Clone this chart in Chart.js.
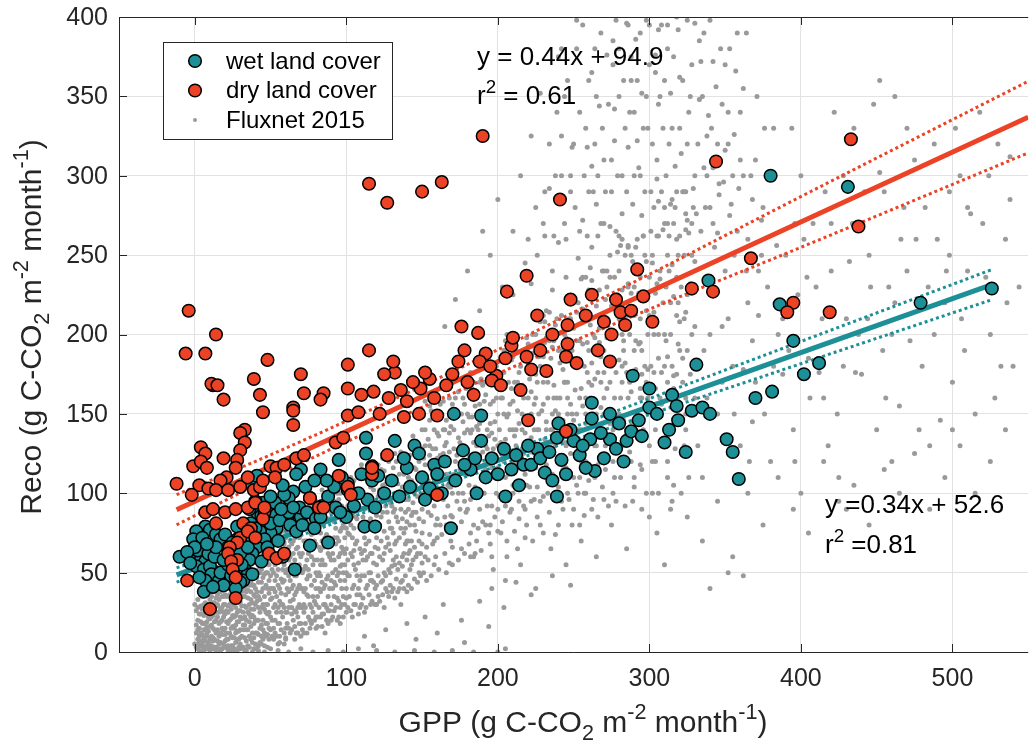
<!DOCTYPE html>
<html>
<head>
<meta charset="utf-8">
<script src="https://cdn.jsdelivr.net/npm/chart.js@4.4.1/dist/chart.umd.min.js"></script>
<style>
  html, body { margin: 0; padding: 0; background: #ffffff; }
  canvas { display: block; }
</style>
</head>
<body>
<canvas id="chart" width="1036" height="746"></canvas>
<script>
// ---- axis ranges and ticks ----
const gppRange = [-50, 550];
const recoRange = [0, 400];
const gppTicks = [0, 100, 200, 300, 400, 500];
const recoTicks = [0, 50, 100, 150, 200, 250, 300, 350, 400];

// ---- regression fits: [slope, intercept, r^2] and the GPP span each line covers ----
const dryFit = [0.44, 94.9, 0.61];
const wetFit = [0.34, 52.6, 0.81];
const dryFitSpan = [-12, 550];
const wetFitSpan = [-12, 526];

// ---- 95% confidence bands around each fit ----
const dryBandGpp = [-12, 50, 120, 200, 300, 400, 550];
const dryBandUpper = [99.1, 124.2, 154.2, 190.4, 237.9, 286.9, 359.5];
const dryBandLower = [80.1, 109.6, 141.2, 175.4, 215.9, 254.9, 314.4];
const wetBandGpp = [-12, 50, 120, 200, 300, 400, 526];
const wetBandUpper = [53.0, 72.8, 96.2, 123.9, 159.6, 195.6, 240.9];
const wetBandLower = [44.0, 66.4, 90.6, 117.3, 149.6, 181.6, 221.9];

// ---- site-month observations [GPP, Reco] ----
const wetLandCover = [
  [65,101],[62,97],[59,99],[70,85],[69,91],[76,97],[76,67],[88,69],[100,85],[101,102],[101,106],[112,79],[119,79],[117,108],[114,96],[119,91],
  [66,52],[52,86],[61,85],[54,78],[50,75],[43,76],[46,71],[41,66],[38,62],[36,58],[33,52],[35,49],[32,45],[30,44],[38,49],
  [7,79],[1,76],[10,77],[-1,71],[5,72],[14,74],[-10,60],[-1,59],[4,58],[7,57],[1,54],[6,52],[10,54],[11,49],[7,45],[6,38],[16,45],[17,50],[22,55],[25,58],
  [28,79],[28,71],[33,72],[37,81],[41,88],[46,83],[50,81],[56,83],[62,88],[65,91],[93,91],[96,88],[17,71],[22,66],[27,64],[24,62],
  [2,64],[9,62],[13,60],[19,58],[14,66],[20,74],[25,69],[30,62],[35,66],[40,78],[44,86],[48,92],[53,94],[57,90],[63,80],[67,76],[71,80],[74,88],
  [80,84],[84,92],[88,98],[92,104],[97,110],[105,92],[108,100],[110,112],[24,48],[19,42],[27,40],[31,55],[44,57],[48,66],[55,70],[58,60],[3,47],[12,41],
  [0,66],[-5,63],[-3,56],[8,68],[45,94],[79,78],[83,85],[73,104],[58,105],[50,98],[40,95],[36,90],
  [380,300],[431,293],[339,234],[386,219],[479,220],[526,229],[395,196],[402,175],[412,182],[381,164],[355,126],[359,109],[324,126],[315,162],[331,181],
  [328,152],[335,154],[300,154],[289,174],[280,144],[285,133],[288,139],[274,150],[262,147],[262,157],[264,114],[254,124],[250,133],[239,135],[239,98],
  [231,113],[217,118],[205,98],[196,122],[189,133],[189,149],[171,150],[182,115],[169,78],[152,96],[140,116],[130,108],[121,111],[113,135],[113,125],
  [95,121],[132,133],[145,130],[158,118],[177,127],[209,115],[222,118],[226,128],[242,121],[245,112],[261,134],[274,134],[293,146],[313,140],[319,146],
  [351,134],[70,115],[83,115],[87,108],[38,105],[41,111],[67,112],[79,108],
  [125,100],[135,98],[142,104],[150,110],[155,103],[160,112],[165,120],[172,108],[178,118],[185,122],[192,110],[200,112],[204,128],[212,124],[220,130],
  [228,122],[234,126],[248,140],[256,130],[268,138],[278,128],[295,136],[305,150],[310,132],[138,122],[148,125],[163,100],[186,100],[214,105],[236,108],
  [258,116],[270,122],[283,120],[300,166],[318,155],[340,150],[370,160],[240,144]
];

const dryLandCover = [
  [12,168],[19,159],[45,151],[72,163],[85,163],[83,159],[101,166],[110,162],[65,154],[65,143],[33,140],[30,138],[33,132],[30,127],[4,129],[7,125],
  [-1,117],[4,120],[8,116],[19,122],[28,121],[27,116],[21,110],[17,108],[-12,106],[3,105],[9,103],[-2,99],[14,102],[22,102],[30,104],[35,110],[39,102],
  [43,104],[45,108],[50,117],[54,116],[53,110],[59,118],[67,122],[72,124],[93,132],[98,135],[101,149],[108,151],[117,117],[117,112],[7,88],[12,90],
  [20,88],[27,90],[35,91],[40,94],[46,88],[45,84],[46,91],[14,81],[32,81],[37,78],[30,72],[35,76],[40,72],[28,69],[23,66],[22,62],[28,58],[24,57],
  [25,52],[27,47],[27,34],[10,27],[-5,45],[49,62],[54,59],[59,62],[76,97],[82,91],[85,91],[101,104],[103,99],[117,116],
  [-4,215],[-6,188],[7,188],[14,200],[11,169],[15,168],[39,172],[48,184],[43,162],[65,152],[70,175],[101,181],[115,190],
  [115,295],[127,283],[150,290],[163,296],[190,325],[241,285],[206,227],[219,237],[248,222],[292,241],[344,309],[433,323],[438,268],[367,248],[342,227],
  [328,229],[395,220],[391,214],[419,214],[302,208],[284,206],[278,222],[281,214],[274,183],[275,200],[246,206],[246,194],[245,186],[232,177],[222,178],
  [219,186],[205,185],[209,193],[210,198],[199,174],[196,171],[192,188],[188,183],[187,201],[176,205],[174,183],[160,149],[148,150],[149,166],[136,165],
  [132,176],[131,183],[125,175],[118,164],[245,139],[220,146],[160,99],[127,124],[95,111],
  [122,150],[128,160],[140,158],[144,170],[155,172],[158,160],[166,168],[170,175],[180,170],[184,162],[195,180],[202,168],[215,165],[228,190],[236,200],
  [252,182],[258,212],[266,190],[270,208],[288,215],[296,224],[138,148],[152,176],[178,190],[226,212],[262,225]
];

const fluxnet2015 = [
  [1,3],[2,8],[3,1],[4,12],[5,5],[6,18],[7,2],[8,10],[9,22],[3,15],[5,27],[7,14],[2,20],[8,30],[9,6],[10,16],[4,24],[6,9],[10,33],[1,12],[5,35],[7,25],[3,6],[9,13],[10,2],[6,30],[8,19],[2,28],[4,4],[10,26],
  [11,4],[12,15],[13,8],[14,25],[15,1],[16,33],[17,12],[18,20],[19,40],[20,7],[11,28],[12,38],[13,19],[14,3],[15,44],[16,10],[17,27],[18,35],[19,14],[20,24],[11,17],[13,31],[15,22],[17,6],[19,30],[12,43],[14,12],[16,41],[18,2],[20,36],[11,10],[13,42],[15,14],[17,38],[19,5],[12,23],[14,34],[16,18],[18,28],[20,15],
  [21,3],[22,18],[23,30],[24,45],[25,9],[26,22],[27,50],[28,13],[29,37],[30,5],[21,26],[22,40],[23,12],[24,33],[25,52],[26,2],[27,28],[28,43],[29,19],[30,31],[21,48],[22,8],[23,36],[24,21],[25,41],[26,15],[27,6],[28,25],[29,54],[30,47],[21,35],[22,29],[23,50],[24,10],[25,30],[26,44],[27,17],[28,55],[29,8],[30,22],[22,52],[24,1],[26,38],[28,32],[30,14],
  [31,10],[32,25],[33,40],[34,55],[35,4],[36,19],[37,33],[38,48],[39,60],[40,12],[31,38],[32,51],[33,17],[34,28],[35,45],[36,59],[37,8],[38,23],[39,36],[40,50],[31,57],[32,3],[33,29],[34,14],[35,34],[36,42],[37,52],[38,6],[39,18],[40,30],[31,21],[33,48],[35,25],[37,44],[39,27],[32,62],[34,38],[36,30],[38,57],[40,40],
  [41,20],[42,35],[43,50],[44,64],[45,8],[46,27],[47,42],[48,56],[49,15],[50,33],[41,47],[42,11],[43,25],[44,38],[45,55],[46,66],[47,18],[48,30],[49,45],[50,60],[41,60],[42,28],[43,6],[44,17],[45,40],[46,49],[47,58],[48,3],[49,37],[50,22],[42,52],[44,44],[46,12],[48,62],[50,48],
  [51,10],[52,28],[53,45],[54,62],[55,75],[56,18],[57,37],[58,52],[59,68],[60,25],[61,40],[62,58],[63,78],[64,14],[65,33],[66,48],[67,65],[68,22],[69,55],[70,40],[51,52],[52,70],[53,20],[54,35],[55,5],[56,58],[57,76],[58,30],[59,12],[60,64],[61,74],[62,28],[63,45],[64,55],[65,70],[66,8],[67,38],[68,78],[69,30],[70,60],[52,40],[54,48],[56,32],[58,72],[60,50],[62,15],[64,68],[66,26],[68,50],[70,18],
  [71,28],[72,52],[73,70],[74,88],[75,35],[76,15],[77,60],[78,80],[79,45],[80,95],[81,22],[82,66],[83,38],[84,85],[85,55],[86,12],[87,74],[88,48],[89,98],[90,30],[91,62],[92,82],[93,42],[94,20],[95,70],[96,100],[97,55],[98,35],[99,88],[100,25],[71,78],[73,40],[75,62],[77,92],[79,20],[81,48],[83,75],[85,30],[87,95],[89,60],[91,40],[93,90],[95,50],[97,78],[99,45],[72,25],[74,58],[76,80],[78,35],[80,68],[82,50],[84,102],[86,42],[88,82],[90,58],[92,26],[94,72],[96,45],[98,105],[100,65],[75,100],[80,40],[85,80],[90,88],[95,32],
  [102,35],[104,60],[106,85],[108,110],[110,48],[112,72],[114,95],[116,30],[118,120],[120,55],[122,80],[124,105],[126,40],[128,68],[130,92],[132,125],[134,52],[136,78],[138,100],[140,38],[142,64],[144,88],[146,115],[148,50],[150,75],[103,95],[105,42],[107,70],[109,28],[111,100],[113,58],[115,82],[117,45],[119,90],[121,35],[123,115],[125,62],[127,88],[129,50],[131,75],[133,98],[135,40],[137,120],[139,68],[141,90],[143,55],[145,80],[147,130],[149,62],[101,75],[105,108],[109,65],[113,40],[117,78],[121,98],[125,28],[129,108],[133,70],[137,45],[141,110],[145,100],[149,95],[110,118],[120,72],[130,38],[140,82],[150,105],[106,52],[116,62],[126,92],
  [152,60],[154,88],[156,115],[158,140],[160,72],[162,98],[164,125],[166,50],[168,160],[170,85],[172,110],[174,135],[176,65],[178,95],[180,150],[182,75],[184,120],[186,100],[188,170],[190,82],[192,130],[194,108],[196,60],[198,145],[200,90],[151,100],[155,130],[159,80],[163,150],[167,105],[171,128],[175,90],[179,118],[183,140],[187,78],[191,158],[195,120],[199,100],[153,45],[157,68],[161,120],[165,140],[169,70],[173,95],[177,145],[181,105],[185,62],[189,135],[193,92],[197,172],[160,108],[170,55],[180,125],[190,110],[200,130],[155,155],[165,85],[175,115],[185,155],[195,80],
  [202,75],[205,110],[208,140],[211,170],[214,95],[217,125],[220,160],[223,200],[226,85],[229,115],[232,145],[235,185],[238,100],[241,135],[244,170],[247,210],[250,90],[253,125],[256,155],[259,195],[204,150],[207,185],[210,120],[213,65],[216,150],[219,105],[222,135],[225,175],[228,95],[231,195],[234,125],[237,160],[240,80],[243,115],[246,150],[249,185],[252,105],[255,140],[258,120],[203,100],[209,90],[215,180],[221,115],[227,150],[233,100],[239,210],[245,130],[251,165],[257,100],[206,200],[218,72],[230,170],[242,190],[254,80],[212,130],[224,120],[236,140],[248,125],[260,170],
  [262,90],[265,130],[268,170],[271,210],[274,250],[277,110],[280,150],[283,190],[286,230],[289,95],[292,135],[295,175],[298,215],[301,265],[304,120],[307,160],[310,200],[313,240],[316,105],[319,145],[322,185],[325,225],[328,270],[263,150],[267,195],[271,115],[275,180],[279,225],[283,130],[287,170],[291,255],[295,115],[299,160],[303,200],[307,235],[311,140],[315,180],[319,220],[323,130],[327,175],[264,110],[270,240],[276,140],[282,260],[288,120],[294,195],[300,85],[306,185],[312,170],[318,260],[324,160],[330,205],
  [165,205],[172,222],[180,240],[188,215],[195,250],[203,230],[210,265],[218,245],[225,280],[232,215],[238,300],[245,260],[250,320],[255,235],[260,290],[265,350],[270,270],[275,310],[280,380],[285,290],[290,340],[295,275],[300,395],[305,310],[310,360],[315,285],[320,330],[325,398],[330,300],[335,350],[340,280],[345,320],[350,370],[355,300],[360,340],[365,260],[370,310],[244,350],[252,380],[258,330],[262,255],[268,390],[273,345],[278,265],[284,330],[288,375],[293,305],[298,350],[303,280],[308,395],[313,320],[318,290],[322,360],[328,250],[333,385],[338,325],[343,255],[348,345],[353,275],[358,390],[230,270],[236,240],[242,325],[248,290],[254,265],[264,320],[272,230],[282,300],[292,360],[302,245],[312,270],[324,290],[334,265],[346,295],[356,250],[190,265],[200,285],[215,300],[222,325],[228,352],[240,375],[256,395],[276,370],[286,255],[296,330],[306,345],[316,375],[326,340],[336,305],[342,372],[352,320],[362,355],[368,285],[372,240],[376,330],[210,225],[220,260],[234,292],[266,300],[286,395],[304,365],[340,398],
  [335,110],[340,200],[345,150],[350,240],[355,180],[360,130],[365,220],[370,170],[375,280],[380,120],[385,200],[390,250],[395,140],[400,300],[405,185],[410,230],[415,160],[420,270],[425,110],[430,210],[435,330],[440,175],[445,250],[450,140],[455,290],[460,200],[465,155],[470,240],[475,310],[480,180],[485,130],[490,260],[495,220],[500,170],[505,300],[510,240],[515,150],[520,270],[525,200],[530,320],[535,260],[540,180],[338,160],[348,205],[358,265],[368,145],[378,230],[388,175],[398,225],[408,270],[418,130],[428,300],[438,200],[448,345],[458,230],[468,280],[478,140],[488,320],[498,250],[508,190],[518,340],[528,160],[538,285],[342,270],[362,300],[382,330],[402,260],[422,340],[442,290],[462,350],[482,280],[502,330],
  [205,45],[215,55],[225,40],[235,65],[245,55],[255,70],[265,60],[275,80],[285,65],[295,90],[305,75],[315,95],[325,85],[335,70],[345,95],[355,60],[365,100],[375,80],[385,110],[395,90],[405,75],[415,120],[425,95],[435,105],[445,80],[455,115],[465,100],[475,125],[485,90],[495,110],[505,130],[515,100],[525,120],[535,140],[352,50],[362,48],[340,40],[310,55],
  [6,0],[10,1],[14,0],[18,2],[22,1],[26,0],[30,2],[34,1],[38,0],[42,1],[46,0],[50,2],[55,1],[62,0],[70,2],[78,0],[88,1],[98,0],[108,2],[120,1],[132,0],[145,1],[158,0],[170,1],[184,0],[200,0],[205,2],
  [3,10],[5,18],[7,7],[9,26],[11,35],[13,3],[15,29],[17,46],[19,22],[21,12],[23,44],[25,16],[27,36],[29,26],[31,46],[33,9],[35,55],[37,22],[39,42],[41,32],[43,58],[45,20],[47,30],[49,55],[51,40],[53,12],[55,62],[57,25],[59,45],[61,18],[63,60],[65,42],[67,25],[69,72],[71,50],[73,18],[75,48],[77,28],[79,70],[81,35],[83,55],[85,90],[87,28],[89,72],[91,50],[93,68],[95,85],[97,30],[99,62],[101,48],[103,80],[105,30],[107,98],[109,45],[111,85],[113,68],[115,50],[117,95],[119,40],[121,65],[123,85],[125,50],[127,110],[129,78],[131,58],[133,85],[135,112],[137,60],[139,88],[141,70],
  [2,2],[4,7],[6,14],[8,4],[12,7],[16,5],[20,11],[24,4],[28,8],[32,14],[36,10],[40,5],[44,10],[48,18],[52,15],[56,10],[60,8],[64,24],[68,12],[72,38],[76,20],[80,15],[84,24],[88,18],[92,35],[96,18],[100,40],[104,22],[108,40],[112,25],[116,45],[120,30],[124,45],[128,35],[132,55],[136,30],
  [132,90],[138,75],[144,105],[150,90],[156,100],[162,80],[168,120],[174,100],[180,90],[186,130],[192,115],[198,85],[204,125],[210,105],[216,140],[222,95],[228,130],[234,110],[240,150],[246,100],[252,140],[258,160],[264,130],[270,150],[276,120],[282,170],[288,145],[294,160],[300,130],[306,150],[312,120],[318,175],[324,140],[330,160],[146,60],[158,55],[170,100],[182,60],[194,75],[206,60],[218,90],[230,75],[242,95],[254,110],[266,85],[278,95],[290,110],[302,100],[314,90],[326,110],
  [0,5],[1,17],[2,33],[3,24],[4,38],[5,11],[6,3],[7,31],[8,16],[9,36],[10,8],[1,26],[2,14],[3,38],[4,19],[5,1],[6,23],[7,36],[8,12],[9,2],[10,21],[0,30],[2,4],[4,29],[6,40],[8,25],
  [10,40],[11,22],[12,2],[12,31],[13,14],[13,47],[14,20],[14,39],[15,7],[15,36],[16,25],[16,47],[17,1],[17,19],[17,44],[18,11],[18,40],[19,25],[19,47],[20,3],[20,30],[11,45],[12,9],[13,26],[14,45],[15,30],[16,2],[18,15],[19,35],[20,44],
  [20,52],[21,19],[21,41],[22,4],[22,25],[22,47],[23,2],[23,20],[23,42],[24,15],[24,27],[24,52],[25,4],[25,23],[25,36],[26,9],[26,31],[26,50],[27,12],[27,33],[27,44],[28,1],[28,19],[28,38],[29,13],[29,31],[29,46],[30,9],[30,26],[30,40],[21,8],[23,55],[25,47],[27,23],[29,3],
  [30,55],[31,3],[31,29],[31,49],[32,17],[32,35],[32,45],[33,1],[33,22],[33,58],[34,7],[34,20],[34,46],[35,14],[35,39],[35,60],[36,3],[36,24],[36,51],[37,16],[37,27],[37,58],[38,12],[38,31],[38,42],[39,2],[39,22],[39,50],[40,20],[40,35],[40,58],[33,35],[35,50],[37,38],[39,9],
  [40,2],[41,12],[41,38],[41,68],[42,20],[42,44],[42,60],[43,15],[43,33],[43,66],[44,5],[44,28],[44,52],[45,14],[45,30],[45,62],[46,4],[46,35],[46,56],[47,10],[47,25],[47,50],[47,68],[48,11],[48,40],[48,50],[49,8],[49,25],[49,62],[50,14],[50,40],[50,68],[42,4],[45,47],[48,24],
  [51,20],[51,34],[51,62],[52,8],[52,50],[52,76],[53,30],[53,55],[53,68],[54,10],[54,25],[54,72],[55,18],[55,42],[55,52],[56,6],[56,40],[56,68],[57,14],[57,30],[57,58],[58,22],[58,44],[58,62],[59,5],[59,28],[59,55],[60,15],[60,36],[60,72],[51,72],[53,38],[55,28],[57,46],[59,76],
  [60,9],[61,25],[61,52],[61,82],[62,38],[62,66],[63,12],[63,32],[63,70],[64,40],[64,82],[65,20],[65,50],[65,62],[66,16],[66,36],[66,72],[67,12],[67,48],[67,80],[68,28],[68,40],[68,66],[69,18],[69,42],[69,84],[70,10],[70,28],[70,52],[70,74],[62,48],[64,28],[66,58],[68,85],[69,62],
  [71,14],[71,40],[71,62],[72,30],[72,70],[72,88],[73,28],[73,54],[73,80],[74,12],[74,36],[74,70],[75,22],[75,52],[75,84],[76,30],[76,48],[76,66],[77,18],[77,42],[77,74],[78,25],[78,55],[78,90],[79,32],[79,58],[79,84],[80,22],[80,50],[80,80],[72,12],[74,46],[76,92],[78,68],[80,30],
  [81,16],[81,58],[81,80],[82,28],[82,40],[82,90],[83,22],[83,48],[83,64],[84,16],[84,44],[84,70],[85,24],[85,40],[85,66],[86,30],[86,55],[86,88],[87,20],[87,46],[87,84],[88,35],[88,62],[88,94],[89,26],[89,40],[89,84],[90,20],[90,45],[90,70],[82,76],[84,58],[86,72],[88,26],[90,96],
  [91,22],[91,70],[91,88],[92,44],[92,58],[92,95],[93,28],[93,52],[93,78],[94,34],[94,48],[94,86],[95,22],[95,60],[95,96],[96,28],[96,62],[96,76],[97,40],[97,66],[97,92],[98,22],[98,50],[98,80],[99,30],[99,55],[99,72],[100,34],[100,50],[100,90],[92,72],[94,100],[96,54],[98,64],[100,78],
  [101,28],[101,58],[101,92],[102,48],[102,74],[102,104],[103,26],[103,62],[104,40],[104,86],[105,55],[105,78],[106,30],[106,68],[106,100],[107,48],[107,84],[108,24],[108,56],[108,92],[109,36],[109,78],[110,30],[110,62],[110,98],[103,110],[105,64],[107,36],[109,100],[104,72],
  [111,34],[111,58],[111,112],[112,48],[112,90],[113,28],[113,80],[114,60],[114,108],[115,36],[115,70],[115,96],[116,50],[116,84],[117,32],[117,62],[118,44],[118,78],[118,102],[119,30],[119,66],[120,42],[120,86],[120,110],[112,64],[114,42],[116,104],[118,56],[119,114],[113,96],
  [121,48],[121,78],[121,118],[122,32],[122,60],[122,102],[123,44],[123,70],[123,95],[124,36],[124,58],[124,88],[125,76],[125,114],[126,48],[126,66],[126,106],[127,38],[127,96],[128,52],[128,82],[128,120],[129,42],[129,64],[129,94],[130,54],[130,78],[130,110],[124,122],[127,72],
  [131,40],[131,88],[131,116],[132,68],[132,100],[133,46],[133,60],[133,120],[134,38],[134,82],[134,106],[135,56],[135,72],[135,96],[136,44],[136,90],[136,126],[137,54],[137,84],[137,104],[138,40],[138,62],[138,112],[139,48],[139,78],[139,96],[140,58],[140,70],[140,118],[132,34],
  [141,42],[141,62],[141,96],[142,52],[142,80],[142,124],[143,40],[143,70],[143,108],[144,58],[144,94],[144,136],[145,46],[145,66],[145,116],[146,76],[146,88],[146,102],[147,44],[147,62],[147,98],[148,70],[148,84],[148,120],[149,48],[149,110],[150,56],[150,68],[150,128],[143,86],
  [151,50],[151,82],[152,118],[152,140],[153,66],[153,96],[154,58],[154,108],[155,74],[155,124],[156,48],[156,86],[157,104],[157,150],[158,70],[158,92],[159,60],[159,128],[160,84],[160,138],[161,52],[162,112],[162,156],[163,74],[164,96],[165,62],[165,118],[166,80],[166,132],[167,92],[168,56],[168,104],[169,86],[169,142],[170,66],[171,112],[172,78],[173,124],[174,58],[174,150],
  [176,82],[176,120],[177,100],[177,160],[178,62],[178,138],[179,88],[180,112],[181,68],[181,148],[182,96],[183,124],[183,166],[184,80],[185,104],[186,70],[186,142],[187,118],[188,90],[188,156],[189,64],[190,126],[191,100],[191,170],[192,80],[193,140],[194,110],[195,68],[195,156],[196,92],[197,128],[197,52],[198,114],[199,160],[200,76],[178,172],[184,60],[190,146],[196,138],[200,116],
  [201,98],[201,140],[202,160],[203,82],[203,122],[204,176],[205,92],[205,134],[206,70],[207,112],[207,150],[208,88],[209,166],[210,100],[210,140],[211,76],[212,118],[212,190],[213,152],[214,84],[214,126],[215,104],[216,168],[217,92],[218,138],[218,112],[219,80],[220,182],[221,104],[222,150],[223,128],[223,70],[224,96],[225,160],[225,116],
  [226,104],[226,140],[227,186],[228,80],[229,128],[230,156],[230,98],[231,208],[232,118],[233,170],[234,88],[235,140],[236,112],[237,196],[238,130],[238,74],[239,160],[240,104],[241,182],[242,120],[243,146],[243,90],[244,200],[245,116],[246,170],[247,96],[247,136],[248,156],[249,80],[249,190],[250,110],[250,146],[228,112],[236,150],[244,132],
  [251,130],[252,196],[253,100],[254,160],[255,120],[256,216],[257,86],[258,144],[259,176],[260,108],[261,206],[262,134],[263,96],[264,172],[265,150],[266,118],[267,228],[268,186],[269,104],[270,160],[271,130],[272,198],[273,92],[274,144],[275,218],[258,100],[262,182],[266,136],[270,96],[274,170],
  [276,100],[277,160],[278,200],[279,128],[280,240],[281,110],[282,180],[283,146],[284,92],[285,212],[286,160],[287,126],[288,250],[289,176],[290,104],[291,196],[292,150],[293,226],[294,118],[295,190],[296,140],[297,250],[298,100],[299,178],[300,212],[280,184],[284,120],[290,230],[294,166],[298,136],
  [302,120],[303,176],[305,232],[306,100],[308,156],[309,266],[311,196],[312,110],[314,220],[316,166],[317,128],[319,250],[320,190],[321,100],[323,210],[324,150],[325,272],[304,140],[310,180],[318,236],
  [222,232],[226,250],[231,262],[236,228],[240,258],[245,236],[248,300],[253,248],[256,272],[259,318],[261,242],[263,290],[266,262],[269,330],[271,290],[274,268],[277,342],[279,300],[281,256],[283,360],[286,318],[289,282],[291,386],[294,300],[296,262],[299,330],[301,290],[304,376],[306,262],[309,330],[311,300],[314,352],[316,270],[319,392],[321,314],[324,266],[327,350],[329,292],[332,320],[334,372],[337,280],[339,338],[342,305],[345,264],[347,380],[349,296],[352,340],[354,282],[357,366],[360,310],[364,390],[367,300],[371,350],[374,272],[378,300],[262,365],[276,385],[298,398],[312,395],[330,396],
  [362,178],[366,120],[372,212],[376,150],[384,256],[392,190],[396,120],[404,236],[412,176],[416,290],[424,150],[432,246],[436,176],[444,210],[452,302],[456,160],[466,260],[472,196],[484,230],[492,146],[498,290],[506,210],[512,276],[522,236],[532,180],[538,312],[544,230],[394,330],[452,360],[470,330],
  [112,10],[126,14],[140,18],[152,22],[164,30],[176,20],[188,32],[196,40],[204,28],[212,44],[222,36],[236,48],[248,42],[118,4],[146,8],[160,12],[178,6],[194,16],
  [150,140],[151,122],[152,158],[153,110],[154,134],[155,146],[156,104],[157,128],[158,162],[159,116],[160,150],[161,136],[162,124],[163,108],[164,158],[165,130],[166,146],[167,118],[168,138],[169,104],[170,156],[171,140],[172,120],[173,150],[174,112],[175,132],[152,130],[156,152],[160,122],[164,140],[168,126],[172,160],[158,106],[166,112],[174,164],
  [176,150],[177,130],[178,112],[179,166],[180,140],[181,122],[182,176],[183,148],[184,132],[185,114],[186,160],[187,140],[188,124],[189,172],[190,150],[191,118],[192,162],[193,128],[194,178],[195,144],[196,116],[197,158],[198,134],[199,180],[200,150],[178,156],[182,138],[186,118],[190,168],[194,136],[198,122],[180,168],[188,144],[196,170],[184,170],
  [201,176],[202,132],[203,160],[204,120],[205,196],[206,148],[207,170],[208,126],[209,184],[210,158],[211,136],[212,200],[213,170],[214,144],[215,122],[216,188],[217,160],[218,132],[219,198],[220,148],[221,172],[222,126],[223,188],[224,156],[225,200],[204,190],[208,156],[212,140],[216,128],[220,194],[224,140],[206,130],[214,176],[222,164],[210,186],
  [226,170],[227,140],[228,208],[229,152],[230,186],[231,134],[232,198],[233,160],[234,214],[235,176],[236,132],[237,168],[238,206],[239,146],[240,190],[241,160],[242,212],[243,178],[244,140],[245,198],[246,160],[247,220],[248,184],[249,150],[250,204],[228,180],[232,140],[236,192],[240,136],[244,170],[248,210],[230,212],[238,152],[246,190],[234,196],
  [251,180],[252,150],[253,220],[254,196],[255,166],[256,236],[257,180],[258,150],[259,212],[260,190],[261,160],[262,234],[263,200],[264,146],[265,218],[266,176],[267,204],[268,154],[269,240],[270,190],[271,222],[272,166],[273,208],[274,236],[275,184],[252,214],[256,194],[260,228],[264,198],[268,210],[272,240],[254,140],[262,168],[270,176],[258,236],
  [276,200],[277,236],[278,176],[279,252],[280,210],[281,160],[282,228],[283,196],[284,250],[285,176],[286,232],[287,200],[288,164],[289,246],[290,212],[291,178],[292,260],[293,194],[294,236],[295,160],[296,222],[297,180],[298,246],[299,200],[300,236],[278,220],[282,200],[286,256],[290,190],[294,210],[298,170],[280,262],[288,226],[296,262],[284,182],
  [301,180],[302,250],[303,214],[304,166],[305,262],[306,200],[307,240],[308,176],[309,220],[310,270],[311,230],[312,186],[313,262],[314,200],[315,244],[316,174],[317,280],[318,212],[319,194],[320,262],[321,230],[322,170],[323,250],[324,214],[325,190],[326,264],[327,232],[328,200],[329,280],[330,246],[304,226],[308,290],[312,250],[316,224],[320,208],[324,276],[328,226],[306,284],[314,282],[322,290],
  [231,290],[234,320],[237,262],[239,340],[242,300],[244,270],[246,360],[249,318],[251,280],[254,340],[257,300],[259,262],[260,360],[262,306],[265,282],[267,344],[270,310],[272,376],[275,290],[277,322],[280,350],[282,276],[285,396],[287,340],[290,300],[292,322],[295,352],[297,290],[300,370],[302,320],[305,298],[307,350],[310,280],[312,380],[315,330],[317,306],[320,362],[323,290],[325,320],[328,370],[331,276],[333,348],[336,390],[338,300],[341,330],[344,356],[346,288],[350,316],[353,380],[356,326],[359,292],[242,380],[252,398],[264,380],[278,398],[294,390],[318,400],[268,270],[288,360],[306,392],
  [332,130],[336,190],[344,226],[348,170],[352,210],[356,150],[364,240],[368,196],[374,250],[382,180],[388,210],[396,270],[406,160],[414,210],[420,240],[428,180],[434,270],[446,230],[454,190],[462,220],[476,260],[488,200],[496,240],[510,280],[524,300],[536,220],[400,100],[430,90],[460,120],[500,140]
];

// ---- styling ----
const TEAL = '#1c8f97';
const RED = '#ec4226';
const GREY = '#9a9a9a';
const AXIS = '#262626';
const GRID = '#e2e2e2';
const FONT = '"Liberation Sans", Arial, Helvetica, sans-serif';

const toXY = pairs => pairs.map(([x, y]) => ({ x, y }));
const fitLine = (fit, span) => span.map(x => ({ x, y: fit[0] * x + fit[1] }));
const band = (xs, ys) => xs.map((x, i) => ({ x, y: ys[i] }));

function drawRich(ctx, segs, x, y, size, align) {
  const parts = segs.map(([t, k]) => {
    const s = k ? size * 0.72 : size;
    ctx.font = s + 'px ' + FONT;
    return { t, k, s, w: ctx.measureText(t).width };
  });
  const total = parts.reduce((a, p) => a + p.w, 0);
  let cx = align === 'center' ? x - total / 2 : x;
  ctx.textAlign = 'left';
  ctx.textBaseline = 'alphabetic';
  for (const p of parts) {
    ctx.font = p.s + 'px ' + FONT;
    const dy = p.k === 1 ? size * 0.26 : p.k === 2 ? -size * 0.42 : 0;
    ctx.fillText(p.t, cx, y + dy);
    cx += p.w;
  }
}

const unitsLabel = (name) => [[name + ' (g C-CO', 0], ['2', 1], [' m', 0], ['-2', 2], [' month', 0], ['-1', 2], [')', 0]];

const frame = {
  id: 'frame',
  afterDatasetsDraw(chart) {
    const { ctx, chartArea: a, scales: { x, y } } = chart;
    ctx.save();
    // axes box and inward ticks
    ctx.strokeStyle = AXIS;
    ctx.lineWidth = 1;
    ctx.beginPath();
    ctx.moveTo(a.right, a.top + 0.5);
    ctx.lineTo(a.left + 0.5, a.top + 0.5);
    ctx.lineTo(a.left + 0.5, a.bottom + 0.5);
    ctx.lineTo(a.right, a.bottom + 0.5);
    for (const v of gppTicks) {
      const px = Math.round(x.getPixelForValue(v)) + 0.5;
      ctx.moveTo(px, a.bottom); ctx.lineTo(px, a.bottom - 8);
      ctx.moveTo(px, a.top); ctx.lineTo(px, a.top + 8);
    }
    for (const v of recoTicks) {
      const py = Math.round(y.getPixelForValue(v)) + 0.5;
      ctx.moveTo(a.left, py); ctx.lineTo(a.left + 8, py);
    }
    ctx.stroke();

    // tick labels
    ctx.fillStyle = AXIS;
    ctx.font = '25px ' + FONT;
    ctx.textAlign = 'right';
    ctx.textBaseline = 'middle';
    for (const v of recoTicks) ctx.fillText(String(v), a.left - 11, y.getPixelForValue(v) + 1);
    ctx.textAlign = 'center';
    for (const v of gppTicks) ctx.fillText(String(v), x.getPixelForValue(v), a.bottom + 27);

    // axis titles
    drawRich(ctx, unitsLabel('GPP'), 583, 732, 30, 'center');
    ctx.save();
    ctx.translate(41, 327);
    ctx.rotate(-Math.PI / 2);
    drawRich(ctx, unitsLabel('Reco'), 0, 0, 30, 'center');
    ctx.restore();

    // legend
    const L = { x: 163, y: 42, w: 229, h: 97 };
    ctx.fillStyle = '#ffffff';
    ctx.fillRect(L.x, L.y, L.w, L.h);
    ctx.strokeStyle = AXIS;
    ctx.lineWidth = 1;
    ctx.strokeRect(L.x + 0.5, L.y + 0.5, L.w, L.h);
    const rows = [
      ['wet land cover', TEAL, 6.3],
      ['dry land cover', RED, 6.3],
      ['Fluxnet 2015', GREY, 2]
    ];
    rows.forEach(([label, color, r], i) => {
      const cy = 61 + i * 29.5;
      ctx.beginPath();
      ctx.arc(195, cy, r, 0, Math.PI * 2);
      ctx.fillStyle = color;
      ctx.fill();
      if (r > 3) { ctx.strokeStyle = '#000'; ctx.lineWidth = 1.5; ctx.stroke(); }
      ctx.fillStyle = '#000';
      ctx.font = '24px ' + FONT;
      ctx.textAlign = 'left';
      ctx.textBaseline = 'middle';
      ctx.fillText(label, 226, cy + 1);
    });

    // fit equations
    ctx.fillStyle = '#000';
    drawRich(ctx, [['y = ' + dryFit[0].toFixed(2) + 'x + ' + dryFit[1].toFixed(1), 0]], 477, 65, 26, 'left');
    drawRich(ctx, [['r', 0], ['2', 2], [' = ' + dryFit[2].toFixed(2), 0]], 477, 104, 26, 'left');
    drawRich(ctx, [['y =' + wetFit[0].toFixed(2) + 'x + ' + wetFit[1].toFixed(1), 0]], 825, 513, 26, 'left');
    drawRich(ctx, [['r', 0], ['2', 2], [' =' + wetFit[2].toFixed(2), 0]], 825, 553, 26, 'left');
    ctx.restore();
  }
};

const lineStyle = (color, dotted) => ({
  type: 'line',
  showLine: true,
  fill: false,
  pointRadius: 0,
  borderColor: color,
  borderWidth: dotted ? 3 : 5,
  borderDash: dotted ? [3, 3] : [],
  borderCapStyle: 'butt',
  cubicInterpolationMode: 'monotone'
});

new Chart(document.getElementById('chart'), {
  type: 'scatter',
  data: {
    datasets: [
      { label: 'dry land cover', data: toXY(dryLandCover), backgroundColor: RED, borderColor: '#000', borderWidth: 1.5, pointRadius: 6.3, order: 0 },
      { label: 'wet land cover', data: toXY(wetLandCover), backgroundColor: TEAL, borderColor: '#000', borderWidth: 1.5, pointRadius: 6.3, order: 1 },
      Object.assign(lineStyle(RED, false), { label: 'dry fit', data: fitLine(dryFit, dryFitSpan), order: 2 }),
      Object.assign(lineStyle(RED, true), { label: 'dry upper', data: band(dryBandGpp, dryBandUpper), order: 2 }),
      Object.assign(lineStyle(RED, true), { label: 'dry lower', data: band(dryBandGpp, dryBandLower), order: 2 }),
      Object.assign(lineStyle(TEAL, false), { label: 'wet fit', data: fitLine(wetFit, wetFitSpan), order: 3 }),
      Object.assign(lineStyle(TEAL, true), { label: 'wet upper', data: band(wetBandGpp, wetBandUpper), order: 3 }),
      Object.assign(lineStyle(TEAL, true), { label: 'wet lower', data: band(wetBandGpp, wetBandLower), order: 3 }),
      { label: 'Fluxnet 2015', data: toXY(fluxnet2015), backgroundColor: GREY, borderWidth: 0, pointRadius: 2.5, order: 10 }
    ]
  },
  options: {
    responsive: false,
    animation: false,
    devicePixelRatio: 1,
    events: [],
    layout: { padding: { top: 17, right: -12, left: 0, bottom: 0 } },
    plugins: { legend: { display: false }, tooltip: { enabled: false } },
    scales: {
      x: {
        type: 'linear', min: gppRange[0], max: gppRange[1],
        afterBuildTicks: s => { s.ticks = gppTicks.map(value => ({ value })); },
        afterFit: s => { s.height = 94; },
        ticks: { display: false },
        grid: { color: GRID, lineWidth: 1, drawTicks: false },
        border: { display: false }
      },
      y: {
        type: 'linear', min: recoRange[0], max: recoRange[1],
        afterBuildTicks: s => { s.ticks = recoTicks.map(value => ({ value })); },
        afterFit: s => { s.width = 119; },
        ticks: { display: false },
        grid: { color: GRID, lineWidth: 1, drawTicks: false },
        border: { display: false }
      }
    }
  },
  plugins: [frame]
});
</script>
</body>
</html>
